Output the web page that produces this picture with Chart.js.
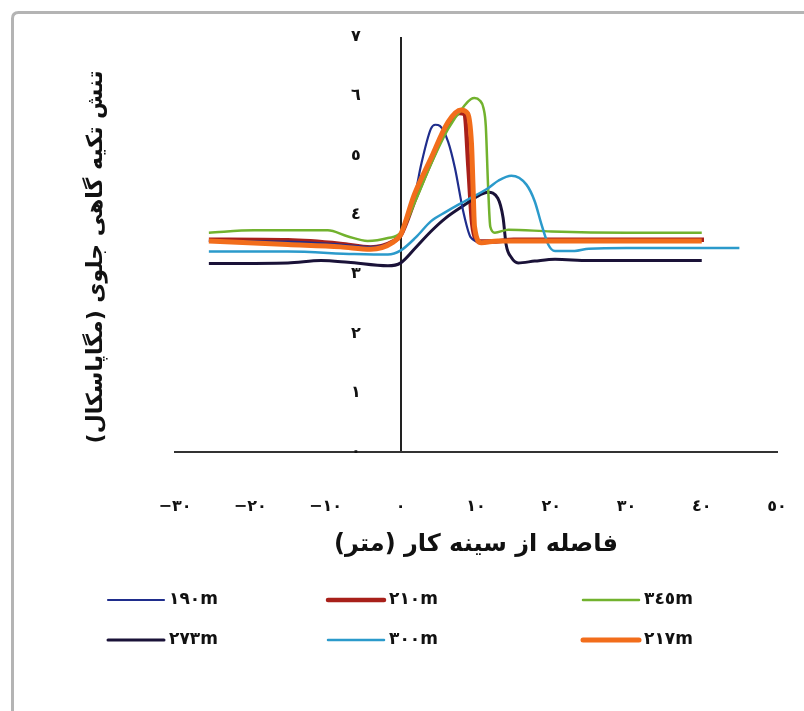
<!DOCTYPE html>
<html>
<head>
<meta charset="utf-8">
<script src="https://cdn.jsdelivr.net/npm/chart.js@4.4.1/dist/chart.umd.min.js"></script>
<style>
html,body{margin:0;padding:0;background:#fff;}
canvas{display:block;}
</style>
</head>
<body>
<canvas id="c" width="804" height="711"></canvas>
<script>
// ---- data ----
const xTickLabels = ['−٣٠','−٢٠','−١٠','٠','١٠','٢٠','٣٠','٤٠','٥٠'];
const yTickLabels = ['٠','١','٢','٣','٤','٥','٦','٧'];
const xTitle = 'فاصله از سینه کار (متر)';
const yTitle = 'تنش تکیه گاهی جلوی (مگاپاسکال)';

const seriesNames = ['١٩٠m','٢١٠m','٣٤٥m','٢٧٣m','٣٠٠m','٢١٧m'];

const x190 = [-25.5,-15,-8,-4,-1,0,1,2,2.7,4.0,4.6,5.2,6.3,7.2,8.3,9.3,10.5,13,20,30,40];
const y190 = [3.56,3.55,3.50,3.46,3.55,3.65,3.95,4.4,4.84,5.45,5.52,5.50,5.23,4.79,4.06,3.62,3.55,3.57,3.57,3.57,3.57];

const x210 = [-25.5,-15,-8,-4,-1,0,2,4,6,7.8,8.5,9.0,9.5,10.4,12,15,20,30,40.3];
const y210 = [3.58,3.57,3.51,3.45,3.55,3.66,4.3,4.9,5.45,5.72,5.70,4.8,3.85,3.55,3.55,3.58,3.58,3.58,3.58];

const x345 = [-25.5,-19.5,-9.7,-7.1,-4.4,-1.7,0,2,4,6.3,8.5,9.3,9.8,10.5,11.0,11.3,11.6,11.9,12.5,14.3,20,30,40];
const y345 = [3.70,3.74,3.74,3.64,3.56,3.61,3.70,4.25,4.85,5.45,5.85,5.95,5.97,5.93,5.80,5.5,4.5,3.8,3.70,3.75,3.72,3.70,3.70];

const x273 = [-25.5,-15,-10.6,-7,-1.7,0,2,4,6,8.5,10,11.6,12.9,13.6,14.0,14.7,15.6,17.8,20.5,25,40];
const y273 = [3.18,3.19,3.23,3.20,3.14,3.19,3.45,3.72,3.95,4.17,4.30,4.38,4.28,3.95,3.50,3.28,3.19,3.22,3.25,3.23,3.23];

const x300 = [-25.5,-15,-6.2,-1.7,0,2,4,6,8.5,11.6,13,14.7,16.7,17.8,18.7,19.6,20.5,23.1,25,30,45];
const y300 = [3.38,3.38,3.34,3.33,3.40,3.62,3.89,4.05,4.23,4.45,4.58,4.66,4.51,4.23,3.84,3.50,3.39,3.39,3.43,3.44,3.44];

const x217 = [-25.5,-15,-8,-4,-1,0,1.8,4,6.3,8.0,8.9,9.4,9.6,9.8,10.7,12.9,20,30,40];
const y217 = [3.56,3.50,3.46,3.42,3.54,3.67,4.34,4.95,5.57,5.77,5.71,5.2,4.5,3.8,3.53,3.56,3.56,3.56,3.56];

// ---- styles ----
const FONT = 'DejaVu Sans';
const colors = ['#1f2d8c','#a8201a','#72b22e','#1a1238','#2b9acb','#f26d1b'];
const widths = [2.2, 4.5, 2.5, 3, 2.5, 5];
const orders = [3, 5, 2, 4, 1, 0];

function pts(xs, ys){ return xs.map((x,i)=>({x:x, y:ys[i]})); }
const xsAll = [x190,x210,x345,x273,x300,x217];
const ysAll = [y190,y210,y345,y273,y300,y217];

const datasets = seriesNames.map((n,i)=>({
  label: n,
  data: pts(xsAll[i], ysAll[i]),
  borderColor: colors[i],
  backgroundColor: colors[i],
  borderWidth: widths[i],
  pointRadius: 0,
  fill: false,
  cubicInterpolationMode: 'monotone',
  order: orders[i]
}));

function zeroPad(s){ s.paddingTop = 0; s.paddingBottom = 0; s.paddingLeft = 0; s.paddingRight = 0; }

const decor = {
  id: 'decor',
  beforeDraw(chart){
    const ctx = chart.ctx;
    ctx.save();
    ctx.fillStyle = '#fff';
    ctx.fillRect(0,0,chart.width,chart.height);
    ctx.strokeStyle = '#b4b4b4';
    ctx.lineWidth = 3;
    const r = 6, x0 = 12.5, y0 = 12.5, x1 = 830, y1 = 740;
    ctx.beginPath();
    ctx.moveTo(x0+r, y0);
    ctx.lineTo(x1, y0);
    ctx.moveTo(x0, y1);
    ctx.lineTo(x0, y0+r);
    ctx.quadraticCurveTo(x0, y0, x0+r, y0);
    ctx.stroke();
    ctx.restore();
  },
  afterDraw(chart){
    const ctx = chart.ctx;
    const ca = chart.chartArea;
    ctx.save();
    ctx.fillStyle = '#111';
    ctx.direction = 'rtl';
    ctx.textAlign = 'center';
    ctx.textBaseline = 'middle';
    // x title
    ctx.font = 'bold 24px "' + FONT + '"';
    ctx.fillText(xTitle, (ca.left+ca.right)/2, 545);
    // y title
    ctx.save();
    ctx.translate(96, 257);
    ctx.rotate(-Math.PI/2);
    ctx.font = 'bold 22px "' + FONT + '"';
    ctx.fillText(yTitle, 0, 0);
    ctx.restore();
    // legend
    ctx.direction = 'ltr';
    ctx.textAlign = 'left';
    ctx.font = 'bold 17px "' + FONT + '"';
    const colX = [108, 328, 583];
    const rowY = [600, 640];
    const segLen = 56;
    seriesNames.forEach((n,i)=>{
      const cx = colX[i%3], cy = rowY[Math.floor(i/3)];
      ctx.strokeStyle = colors[i];
      ctx.lineWidth = widths[i];
      ctx.lineCap = 'round';
      ctx.beginPath();
      ctx.moveTo(cx, cy);
      ctx.lineTo(cx+segLen, cy);
      ctx.stroke();
      ctx.fillStyle = '#111';
      ctx.fillText(n, cx+segLen+5, cy);
    });
    ctx.restore();
  }
};

new Chart(document.getElementById('c'), {
  type: 'line',
  data: { datasets },
  options: {
    responsive: false,
    animation: false,
    devicePixelRatio: 1,
    layout: { padding: { left: 175, right: 27, top: 37, bottom: 0 } },
    plugins: { legend: { display: false }, tooltip: { enabled: false }, title: { display: false } },
    scales: {
      x: {
        type: 'linear',
        min: -30, max: 50,
        afterFit(s){ s.height = 259; zeroPad(s); },
        ticks: {
          stepSize: 10,
          padding: 45,
          color: '#111',
          font: { family: FONT, size: 16, weight: 'bold' },
          callback: (v, i) => xTickLabels[i]
        },
        grid: {
          drawTicks: false,
          color: ctx => (ctx.tick && ctx.tick.value === 0) ? '#222' : 'rgba(0,0,0,0)',
          lineWidth: 2
        },
        border: { display: true, color: '#333', width: 2 }
      },
      y: {
        type: 'linear',
        min: 0, max: 7,
        position: 'left',
        afterFit(s){ s.width = 0; zeroPad(s); },
        ticks: {
          stepSize: 1,
          mirror: true,
          padding: 176,
          color: '#111',
          font: { family: FONT, size: 16, weight: 'bold' },
          callback: (v, i) => yTickLabels[i]
        },
        grid: { display: false, drawTicks: false },
        border: { display: false }
      }
    }
  },
  plugins: [decor]
});
</script>
</body>
</html>
